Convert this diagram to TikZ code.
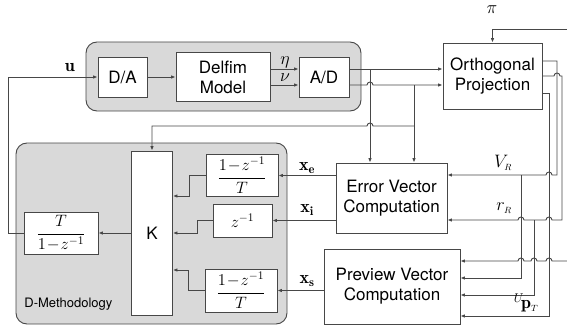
\RequirePackage{fix-cm}
\documentclass[tikz,border=0pt]{standalone}
\usepackage{fontspec}
\newfontfamily\hv{TeX Gyre Heros}
\usetikzlibrary{arrows.meta}
\definecolor{ln}{HTML}{474747}
\definecolor{grpfill}{HTML}{D9D9D9}
\begin{document}
\begin{tikzpicture}[x=1pt,y=-1pt,
  line width=0.9pt, draw=ln,
  >={Latex[length=4.5pt,width=3.6pt]},
  box/.style={draw=ln, fill=white, line width=0.9pt, inner sep=0pt,
    font=\hv\fontsize{17}{20}\selectfont, align=center, text=black},
  fbox/.style={box, font=\fontsize{16.5}{19}\selectfont},
  grp/.style={draw=ln, fill=grpfill, rounded corners=11pt, line width=0.9pt, inner sep=0pt},
  lab/.style={text=black, inner sep=0pt, font=\fontsize{18}{21}\selectfont},
  wire/.style={draw=ln, line width=0.9pt}
]
\useasboundingbox (0,0) rectangle (567,329);

% groups
\node[grp, minimum width=275pt, minimum height=69pt] (topgrp) at (223.5,76.5) {};
\node[grp, minimum width=271pt, minimum height=181pt] (dmgrp) at (151.5,233.5) {};
\node[anchor=west, inner sep=0pt, text=black, font=\hv\fontsize{13}{15}\selectfont] (dmlab) at (24,304) {D-Methodology};

% boxes
\node[box, minimum width=49pt, minimum height=40pt] (da) at (122.5,77) {D/A};
\node[box, minimum width=94pt, minimum height=49pt] (delfim) at (223,77) {Delfim\\Model};
\node[box, minimum width=50pt, minimum height=40pt] (ad) at (324,77) {A/D};
\node[box, minimum width=99pt, minimum height=66pt] (orth) at (492.5,76) {Orthogonal\\Projection};
\node[box, minimum width=111pt, minimum height=70pt] (err) at (391.5,198) {Error Vector\\Computation};
\node[box, minimum width=136pt, minimum height=75pt] (prev) at (392,286.5) {Preview Vector\\Computation};
\node[box, minimum width=41pt, minimum height=164pt] (k) at (152,233) {K};
\node[fbox, minimum width=72pt, minimum height=42pt] (f1) at (242,175.5) {$\displaystyle\frac{1\!-\!z^{-1}}{T}$};
\node[fbox, minimum width=59pt, minimum height=33pt] (z) at (242.5,220.5) {$z^{-1}$};
\node[fbox, minimum width=72pt, minimum height=43pt] (f3) at (241,290.5) {$\displaystyle\frac{1\!-\!z^{-1}}{T}$};
\node[fbox, minimum width=74pt, minimum height=42pt] (ti) at (61,233) {$\displaystyle\frac{T}{1\!-\!z^{-1}}$};

% feedback u
\draw[wire,->] (ti.west) -- ++(-15,0) |- (da.west);
\node[lab] (ulab) at (70,68) {$\mathbf{u}$};
\draw[wire,->] (da.east) -- (delfim.west);

% eta, nu
\draw[wire,->] (delfim.east |- 0,69) -- (ad.west |- 0,69);
\draw[wire,->] (delfim.east |- 0,85) -- (ad.west |- 0,85);
\node[lab] (etalab) at (285,62) {$\eta$};
\node[lab] (nulab) at (285,78) {$\nu$};

% A/D outputs
\coordinate (j1) at (370,69);
\coordinate (j2) at (414,85);
\coordinate (j3) at (414,126);
\draw[wire,->] (ad.east |- 0,69) -- (orth.west |- 0,69);
\draw[wire,->] (ad.east |- 0,85) -- (367,85) arc[start angle=180,end angle=0,radius=3pt] -- (orth.west |- 0,85);
\draw[wire,->] (j1) -- (j1 |- err.north);
\draw[wire,->] (j2) -- (j2 |- err.north);
\draw[wire,->] (j3) -- (373,126) arc[start angle=0,end angle=180,radius=3pt] -| (k.north);

% pi
\coordinate (pin) at (567,29);
\draw[wire,->] (pin) -| (orth.north);
\node[lab] (pilab) at (492,10) {$\pi$};

% error / preview outputs into filters
\draw[wire,->] (err.west |- f1.east) -- (f1.east);
\draw[wire,->] (err.west |- z.east) -- (z.east);
\draw[wire,->] (prev.west |- f3.east) -- (f3.east);
\node[lab] (xelab) at (307,168) {$\mathbf{x_e}$};
\node[lab] (xilab) at (307,210) {$\mathbf{x_i}$};
\node[lab] (xslab) at (307,281) {$\mathbf{x_s}$};

% filters into K
\draw[wire,->] (f1.west) -- ++(-16,0) |- (k.east |- 0,196);
\draw[wire,->] (z.west) -- ++(-15,0) |- (k.east);
\draw[wire,->] (f3.west) -- ++(-16,0) |- (k.east |- 0,270);
\draw[wire,->] (k.west) -- (ti.east);

% orthogonal projection outputs
\coordinate (jv) at (521,175);
\coordinate (jr) at (534,220);
\coordinate (ext) at (567,261);
\draw[wire,->] (orth.east |- 0,61) -- (557,61) -- (557,175) -- (552,175)
  arc[start angle=0,end angle=180,radius=3pt] -- (err.east |- 0,175);
\draw[wire,->] (orth.east |- 0,76) -- (554,76) arc[start angle=180,end angle=0,radius=3pt]
  -- (562,76) -- (562,220) -- (552,220) arc[start angle=0,end angle=180,radius=3pt]
  -- (524,220) arc[start angle=0,end angle=180,radius=3pt] -- (err.east |- 0,220);
\draw[wire,->] (orth.east |- 0,93) -- (549,93) -- (549,316) -- (prev.east |- 0,316);
\draw[wire,->] (jv) |- (prev.east |- 0,278);
\draw[wire,->] (jr) |- (prev.east |- 0,295);
\draw[wire,->] (ext) -- (552,261) arc[start angle=0,end angle=180,radius=3pt]
  -- (537,261) arc[start angle=0,end angle=180,radius=3pt]
  -- (524,261) arc[start angle=0,end angle=180,radius=3pt] -- (prev.east |- 0,261);

\node[lab] (vrlab) at (503,163) {$V_{\scriptscriptstyle R}$};
\node[lab] (rrlab) at (504,208) {$r_{\scriptscriptstyle R}$};
\node[lab, font=\fontsize{18}{21}\selectfont] (ptlab) at (526,303) {${}^{U}\!\mathbf{p}_{\scriptscriptstyle T}$};
\end{tikzpicture}
\end{document}
